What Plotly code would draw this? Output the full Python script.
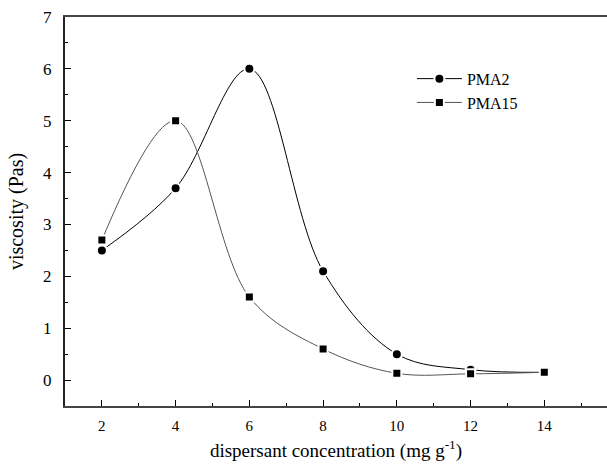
import plotly.graph_objects as go

conc = [2, 4, 6, 8, 10, 12, 14]
pma2 = [2.5, 3.7, 6.0, 2.1, 0.5, 0.2, 0.15]
pma15 = [2.7, 5.0, 1.6, 0.6, 0.13, 0.12, 0.15]

font_family = "Liberation Serif, Times New Roman, serif"

fig = go.Figure()
fig.add_trace(go.Scatter(
    x=conc, y=pma2, name="PMA2", mode="lines+markers",
    line=dict(color="black", width=1, shape="spline", smoothing=1.0),
    marker=dict(symbol="circle", size=10, color="black", line=dict(color="white", width=2)),
))
fig.add_trace(go.Scatter(
    x=conc, y=pma15, name="PMA15", mode="lines+markers",
    line=dict(color="#555555", width=1, shape="spline", smoothing=1.0),
    marker=dict(symbol="square", size=9, color="black", line=dict(color="white", width=2)),
))

fig.update_layout(
    width=607, height=469,
    margin=dict(l=65, r=0, t=17, b=63),
    paper_bgcolor="white", plot_bgcolor="white",
    font=dict(family=font_family, color="black", size=14),
    showlegend=True,
    legend=dict(x=0.64, y=0.885, xanchor="left", yanchor="top",
                bgcolor="rgba(0,0,0,0)", font=dict(size=16, family=font_family),
                itemwidth=45, tracegroupgap=0),
    xaxis=dict(
        range=[1, 15.7], tickvals=[2, 4, 6, 8, 10, 12, 14],
        ticks="inside", ticklen=6, tickwidth=1, tickcolor="black",
        minor=dict(ticks="inside", ticklen=3, dtick=1, tick0=1, tickcolor="black"),
        showline=True, linecolor="#444444", linewidth=2, mirror=True,
        showgrid=False, zeroline=False,
        tickfont=dict(size=15), ticklabelstandoff=5,
        title=dict(text="dispersant concentration (mg g<sup>-1</sup>)", font=dict(size=19), standoff=11),
    ),
    yaxis=dict(
        range=[-0.5, 7], tickvals=[0, 1, 2, 3, 4, 5, 6, 7],
        ticks="inside", ticklen=6, tickwidth=1, tickcolor="black",
        minor=dict(ticks="inside", ticklen=3, dtick=0.5, tick0=0, tickcolor="black"),
        showline=True, linecolor="#222222", linewidth=2, mirror=False,
        showgrid=False, zeroline=False,
        tickfont=dict(size=17), ticklabelstandoff=8,
        title=dict(text="viscosity (Pas)", font=dict(size=20), standoff=14),
    ),
)

fig.write_html("out.html")
